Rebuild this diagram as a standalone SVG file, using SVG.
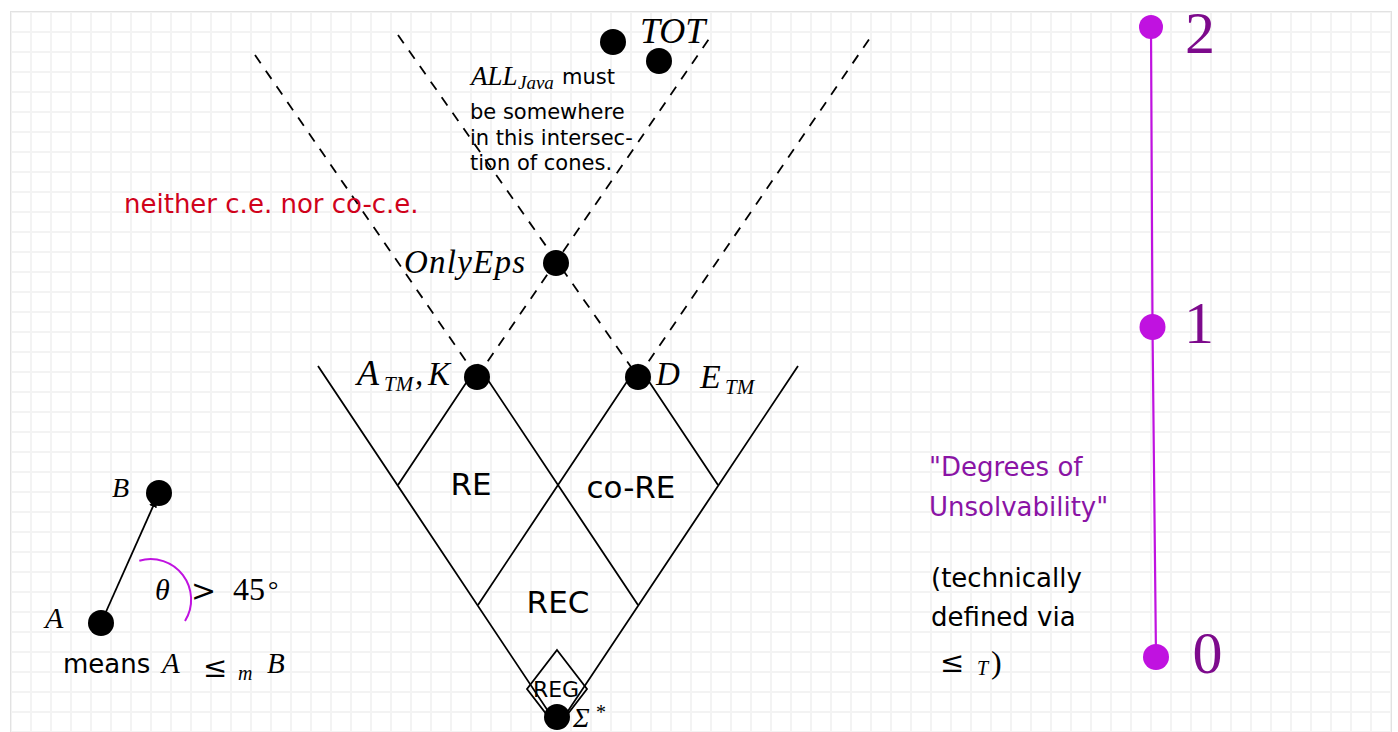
<svg xmlns="http://www.w3.org/2000/svg" width="1398" height="732" viewBox="0 0 1398 732">
<style>
.sans{font-family:"DejaVu Sans","Liberation Sans",sans-serif;fill:#000}
.math{font-family:"Liberation Serif","DejaVu Serif",serif;font-style:italic;fill:#000}
.rm{font-family:"Liberation Serif","DejaVu Serif",serif;fill:#000}
.sym{font-family:"DejaVu Serif","Liberation Serif",serif;fill:#000}
.solid{stroke:#000;stroke-width:1.8;fill:none}
.dash{stroke:#000;stroke-width:1.8;fill:none;stroke-dasharray:10 9}
.dot{fill:#000}
.pdot{fill:#c012e0}
.num{font-family:"Liberation Serif","DejaVu Serif",serif;fill:#7d0a8c;font-size:60px}
</style>
<defs>
<pattern id="grid" patternUnits="userSpaceOnUse" x="1" y="2" width="20" height="20">
<path d="M10 0V20M0 10H20" stroke="#f3f3f3" stroke-width="2" fill="none"/>
</pattern>
<marker id="arrow" viewBox="0 0 10 10" refX="10" refY="5" markerWidth="10" markerHeight="10" markerUnits="userSpaceOnUse" orient="auto">
<path d="M0 1 L10 5 L0 9 Z" fill="#000"/>
</marker>
</defs>
<g id="background">
<rect x="0" y="0" width="1398" height="732" fill="#fff"/>
<rect x="10.5" y="11.5" width="1381" height="740" fill="url(#grid)" stroke="#e2e2e2" stroke-width="1"/>
</g>
<g id="connectors">
<path class="solid" d="M318 366 L558 726 L798 366"/>
<path class="solid" d="M398 485 L478 365 L638 605"/>
<path class="solid" d="M718 485 L638 365 L478 605"/>
<path class="solid" d="M557 650 L587 689 L557 728 L527 689 Z"/>
<path class="dash" d="M255 55 L477 377"/>
<path class="dash" d="M477 377 L713 33"/>
<path class="dash" d="M398 35 L638 377"/>
<path class="dash" d="M638 377 L872 35"/>
<path class="solid" d="M101 623 L157 497.5" marker-end="url(#arrow)"/>
<path d="M139.3 560.7 A40.5 40.5 0 0 1 185 621" stroke="#c012e0" stroke-width="2" fill="none"/>
<path d="M1151 27 L1152.5 327 L1156 657" stroke="#c012e0" stroke-width="2.2" fill="none"/>
</g>
<g id="node-TOT">
<circle class="dot" cx="613" cy="42" r="13"/>
<circle class="dot" cx="659" cy="61" r="13"/>
<text class="math" x="640" y="43" font-size="36">TOT</text>
</g>
<g id="note-ALLJava">
<text class="math" x="471" y="85" font-size="27">ALL</text>
<text class="math" x="518" y="88.5" font-size="19">Java</text>
<text class="sans" x="562" y="84" font-size="21">must</text>
<text class="sans" x="470" y="119" font-size="21">be somewhere</text>
<text class="sans" x="470" y="145" font-size="21">in this intersec-</text>
<text class="sans" x="470" y="170" font-size="21">tion of cones.</text>
</g>
<g id="label-neither">
<text class="sans" x="124" y="213" font-size="26" style="fill:#d0021b">neither c.e. nor co-c.e.</text>
</g>
<g id="node-OnlyEps">
<circle class="dot" cx="556" cy="263" r="13"/>
<text class="math" x="404" y="273" font-size="33" textLength="121" lengthAdjust="spacing">OnlyEps</text>
</g>
<g id="node-ATM-K">
<circle class="dot" cx="477" cy="377" r="13"/>
<text class="math" x="357" y="385" font-size="36">A</text>
<text class="math" x="384" y="391" font-size="21">TM</text>
<text class="math" x="415" y="385" font-size="33">,</text>
<text class="math" x="428" y="385" font-size="33">K</text>
</g>
<g id="node-D">
<circle class="dot" cx="638" cy="377" r="13"/>
<text class="math" x="656" y="385" font-size="33">D</text>
</g>
<g id="label-ETM">
<text class="math" x="700" y="388" font-size="34">E</text>
<text class="math" x="725" y="394" font-size="21">TM</text>
</g>
<g id="region-RE"><text class="sans" x="471" y="495" font-size="31" text-anchor="middle">RE</text></g>
<g id="region-coRE"><text class="sans" x="631" y="498" font-size="31" text-anchor="middle">co-RE</text></g>
<g id="region-REC"><text class="sans" x="558" y="613" font-size="31" text-anchor="middle">REC</text></g>
<g id="region-REG"><text class="sans" x="556" y="697" font-size="22" text-anchor="middle">REG</text></g>
<g id="node-Sigma">
<circle class="dot" cx="557" cy="717" r="13"/>
<text class="math" x="573" y="727" font-size="28">Σ</text>
<text class="rm" x="596" y="719" font-size="20">*</text>
</g>
<g id="node-A">
<circle class="dot" cx="101" cy="623" r="13"/>
<text class="math" x="45" y="628" font-size="30">A</text>
</g>
<g id="node-B">
<circle class="dot" cx="159" cy="493" r="13"/>
<text class="math" x="112" y="497" font-size="28">B</text>
</g>
<g id="legend-angle">
<text class="math" x="155" y="600" font-size="30">θ</text>
<text class="sym" x="191" y="601" font-size="30">&gt;</text>
<text class="rm" x="233" y="600" font-size="32">45</text>
<text class="rm" x="268" y="598" font-size="26">°</text>
</g>
<g id="legend-means">
<text class="sans" x="63" y="673" font-size="26">means</text>
<text class="math" x="162" y="673" font-size="29">A</text>
<text class="sym" x="203" y="677" font-size="29">≤</text>
<text class="math" x="238" y="680" font-size="20">m</text>
<text class="math" x="267" y="673" font-size="29">B</text>
</g>
<g id="label-degrees">
<text class="sans" x="929" y="476" font-size="26" style="fill:#8a14a5">"Degrees of</text>
<text class="sans" x="929" y="516" font-size="26" style="fill:#8a14a5">Unsolvability"</text>
</g>
<g id="label-technically">
<text class="sans" x="931" y="587" font-size="26">(technically</text>
<text class="sans" x="931" y="626" font-size="26">defined via</text>
<text class="sym" x="940" y="672" font-size="29">≤</text>
<text class="math" x="977" y="675" font-size="20">T</text>
<text class="rm" x="991" y="673" font-size="32">)</text>
</g>
<g id="node-deg2">
<circle class="pdot" cx="1151" cy="27" r="12"/>
<text class="num" x="1185" y="53">2</text>
</g>
<g id="node-deg1">
<circle class="pdot" cx="1152.5" cy="327" r="13"/>
<text class="num" x="1184" y="343">1</text>
</g>
<g id="node-deg0">
<circle class="pdot" cx="1156" cy="657" r="13"/>
<text class="num" x="1192.5" y="673">0</text>
</g>
</svg>
